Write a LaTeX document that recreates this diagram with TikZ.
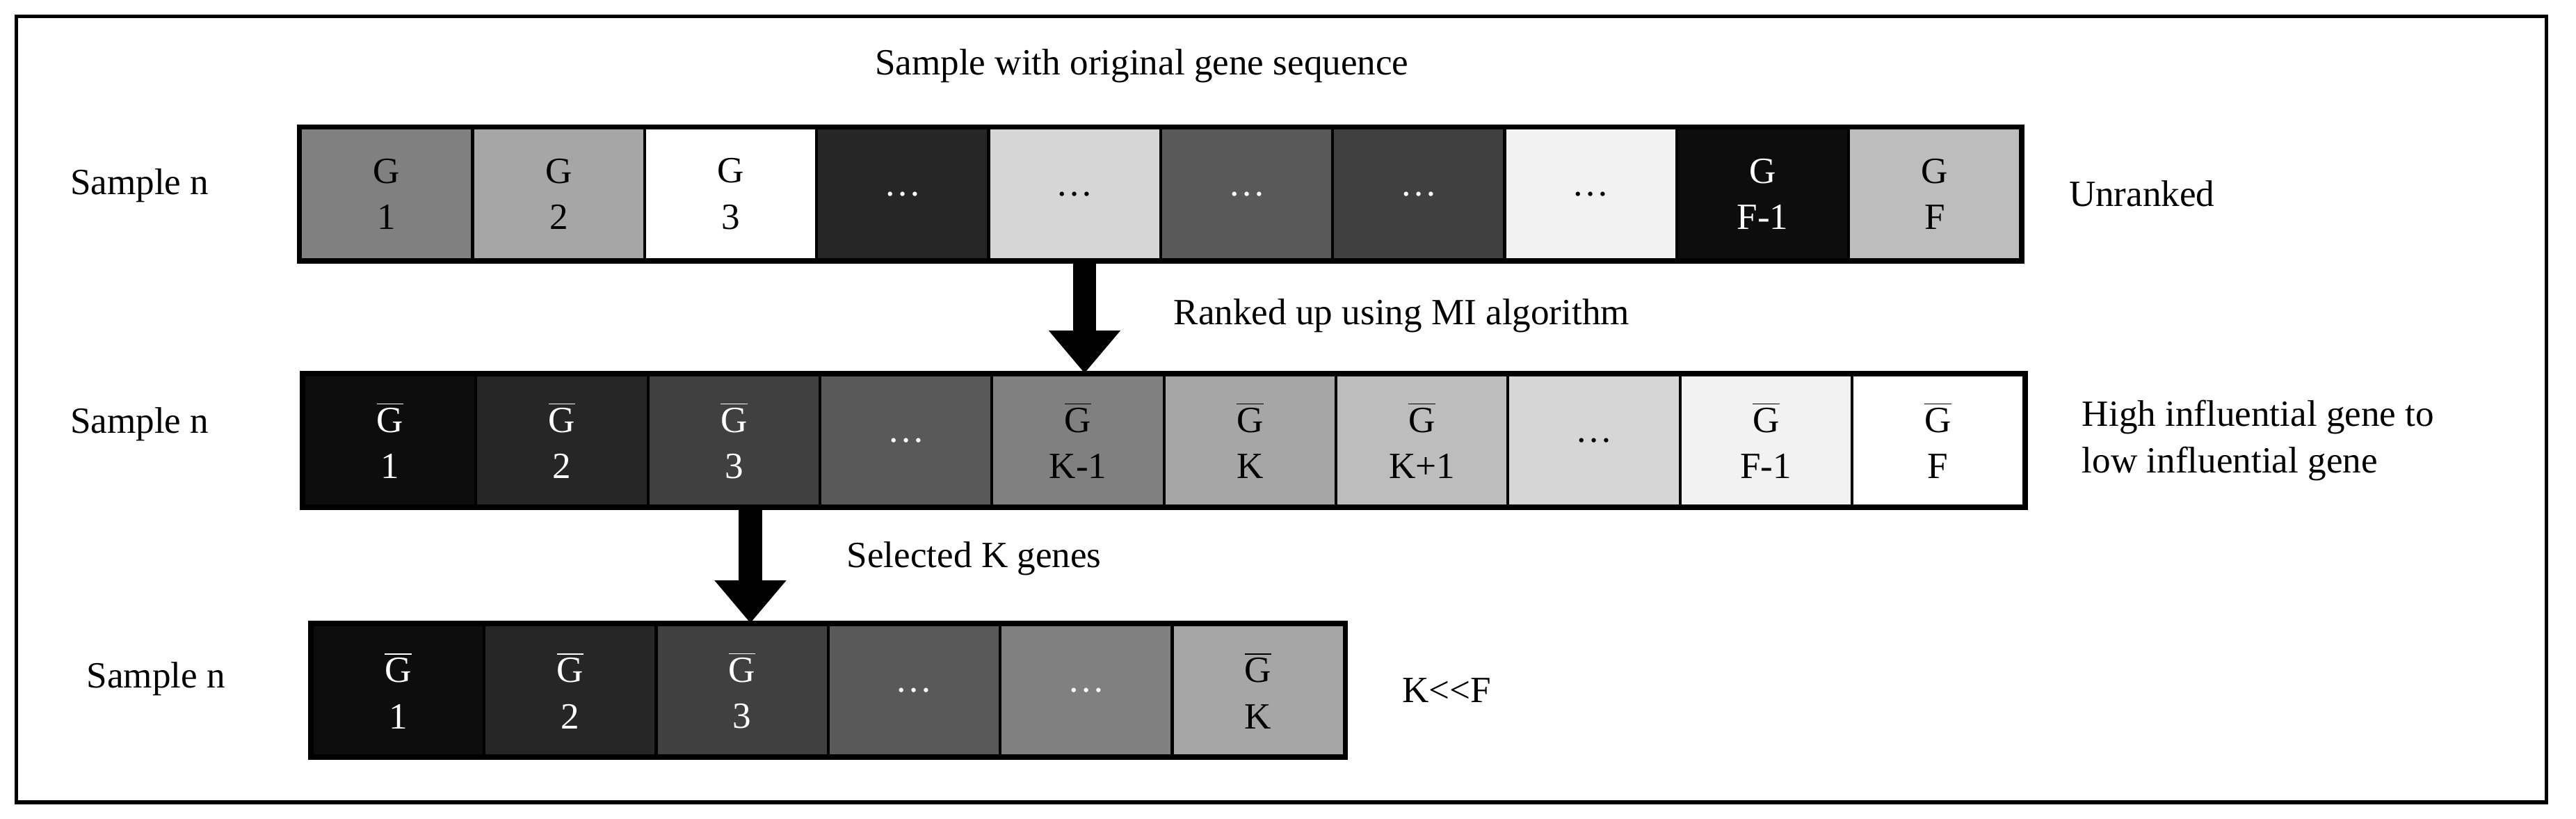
\documentclass[tikz,border=0pt]{standalone}
\usepackage{amsmath}
\usepackage{fontspec}
\setmainfont{Liberation Serif}
\usetikzlibrary{positioning,arrows.meta}

\tikzset{
  cell/.style={draw=black, line width=0.09cm, minimum width=5.235cm, minimum height=4cm,
    inner sep=0pt, align=center, font=\fontsize{32}{40}\selectfont},
  lbl/.style={font=\fontsize{32}{40}\selectfont, align=left},
  bigarrow/.style={line width=0.7cm, -{Triangle[width=2.1cm,length=1.3cm]}}
}

\begin{document}
\begin{tikzpicture}[x=0.05cm, y=0.05cm]
\useasboundingbox (0,0) rectangle (1568,498);
\draw[line width=0.12cm] (10,10) rectangle (1550,488);

% row 1: unranked
\foreach \g/\t/\c [count=\i] in {50/G\\1/black, 35/G\\2/black, 0/G\\3/black, 85/\dots/white,
    16/\dots/black, 65/\dots/white, 75/\dots/white, 5/\dots/black, 95/G\\F-1/white, 26/G\\F/black}
  \node[cell, fill=black!\g!white, text=\c] (r1-\i) at (183+52.35+104.7*\i-104.7, 380) {\t};

% row 2: ranked
\foreach \g/\t/\c [count=\i] in {95/$\overline{\text{G}}$\\1/white, 85/$\overline{\text{G}}$\\2/white,
    75/$\overline{\text{G}}$\\3/white, 65/\dots/white, 50/$\overline{\text{G}}$\\K-1/black,
    35/$\overline{\text{G}}$\\K/black, 26/$\overline{\text{G}}$\\K+1/black, 16/\dots/black,
    5/$\overline{\text{G}}$\\F-1/black, 0/$\overline{\text{G}}$\\F/black}
  \node[cell, fill=black!\g!white, text=\c] (r2-\i) at (185+52.35+104.7*\i-104.7, 230) {\t};

% row 3: selected
\foreach \g/\t/\c [count=\i] in {95/$\overline{\text{G}}$\\1/white, 85/$\overline{\text{G}}$\\2/white,
    75/$\overline{\text{G}}$\\3/white, 65/\dots/white, 50/\dots/white, 35/$\overline{\text{G}}$\\K/black}
  \node[cell, fill=black!\g!white, text=\c] (r3-\i) at (190+52.35+104.7*\i-104.7, 78) {\t};

% outlines
\draw[line width=0.15cm] (r1-1.north west) rectangle (r1-10.south east);
\draw[line width=0.15cm] (r2-1.north west) rectangle (r2-10.south east);
\draw[line width=0.15cm] (r3-1.north west) rectangle (r3-6.south east);

% side labels
\node[lbl] (s1) at (85,385) {Sample n};
\node[lbl] (s2) at (85,240) {Sample n};
\node[lbl] (s3) at (95,85) {Sample n};
\node[lbl] (title) at (695,458) {Sample with original gene sequence};
\node[lbl, right=1.3cm of r1-10] (unr) {Unranked};
\node[lbl, right=1.6cm of r2-10] (inf) {High influential gene to\\low influential gene};
\node[lbl, right=1.6cm of r3-6] (kf) {K<{}<F};

% arrows
\coordinate (a1) at ([xshift=0.3cm]r1-5.south);
\draw[bigarrow] (a1) -- (a1 |- r2-5.north);
\node[lbl, anchor=west] (rk) at (712,306) {Ranked up using MI algorithm};
\coordinate (a2) at ([xshift=0.25cm]r3-3.north |- r2-3.south);
\draw[bigarrow] (a2) -- (a2 |- r3-3.north);
\node[lbl, anchor=west] (sel) at (513,158) {Selected K genes};
\end{tikzpicture}
\end{document}
